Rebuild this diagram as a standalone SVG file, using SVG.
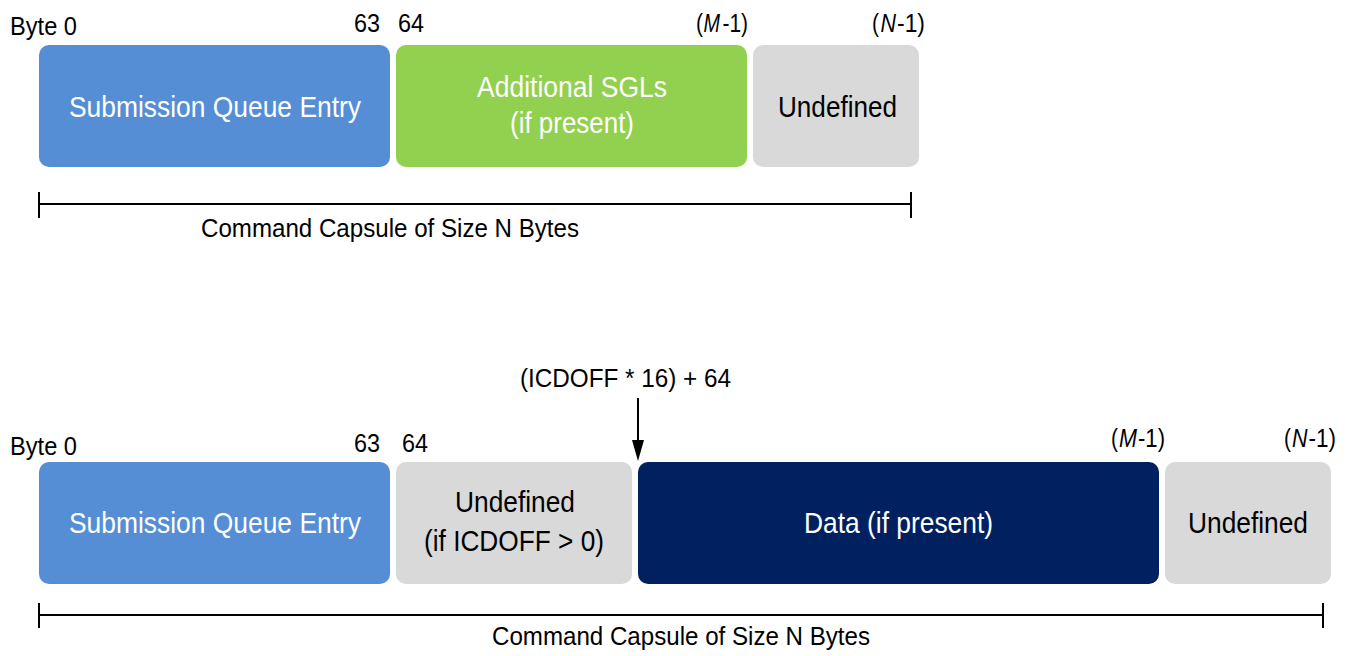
<svg xmlns="http://www.w3.org/2000/svg" width="1355" height="656" viewBox="0 0 1355 656">
<defs>
<style>
text{font-family:"Liberation Sans",Arial,sans-serif;}
.lbl{font-size:26px;fill:#000;}
.it{font-style:italic;}
.box{font-size:30px;text-anchor:middle;}
.w{fill:#fff;}
.k{fill:#000;}
.blue{fill:#558ED5;}
.green{fill:#92D050;}
.gray{fill:#D9D9D9;}
.navy{fill:#002060;}
.ln{stroke:#000;stroke-width:2;fill:none;}
</style>
</defs>
<rect width="1355" height="656" fill="#fff"/>
<g id="top-labels">
<text class="lbl" x="10" y="35" textLength="67" lengthAdjust="spacingAndGlyphs">Byte 0</text>
<text class="lbl" x="354" y="32" textLength="26" lengthAdjust="spacingAndGlyphs">63</text>
<text class="lbl" x="398" y="32" textLength="26" lengthAdjust="spacingAndGlyphs">64</text>
<text class="lbl" x="696" y="32" textLength="7" lengthAdjust="spacingAndGlyphs">(</text>
<text class="lbl it" x="703.5" y="32" textLength="16.5" lengthAdjust="spacingAndGlyphs">M</text>
<text class="lbl" x="722.5" y="32" textLength="25.5" lengthAdjust="spacingAndGlyphs">-1)</text>
<text class="lbl" x="872" y="32" textLength="7" lengthAdjust="spacingAndGlyphs">(</text>
<text class="lbl it" x="880.5" y="32" textLength="15.5" lengthAdjust="spacingAndGlyphs">N</text>
<text class="lbl" x="897" y="32" textLength="28" lengthAdjust="spacingAndGlyphs">-1)</text>
</g>
<g id="top-sqe"><rect class="blue" x="39" y="45" width="351" height="122" rx="10"/><text class="box w" x="215" y="117" textLength="292" lengthAdjust="spacingAndGlyphs">Submission Queue Entry</text></g>
<g id="top-sgl"><rect class="green" x="396" y="45" width="351" height="122" rx="10"/><text class="box w" x="572" y="97" textLength="190" lengthAdjust="spacingAndGlyphs">Additional SGLs</text><text class="box w" x="572" y="133" textLength="124" lengthAdjust="spacingAndGlyphs">(if present)</text></g>
<g id="top-undef"><rect class="gray" x="753" y="45" width="166" height="122" rx="10"/><text class="box k" x="837.5" y="117" textLength="119" lengthAdjust="spacingAndGlyphs">Undefined</text></g>
<g id="top-size"><text class="lbl" x="201" y="237" textLength="378" lengthAdjust="spacingAndGlyphs">Command Capsule of Size N Bytes</text></g>

<g id="bot-labels">
<text class="lbl" x="10" y="455" textLength="67" lengthAdjust="spacingAndGlyphs">Byte 0</text>
<text class="lbl" x="354" y="452" textLength="26" lengthAdjust="spacingAndGlyphs">63</text>
<text class="lbl" x="402" y="452" textLength="26" lengthAdjust="spacingAndGlyphs">64</text>
<text class="lbl" x="1111" y="447" textLength="7" lengthAdjust="spacingAndGlyphs">(</text>
<text class="lbl it" x="1119" y="447" textLength="18" lengthAdjust="spacingAndGlyphs">M</text>
<text class="lbl" x="1138" y="447" textLength="27" lengthAdjust="spacingAndGlyphs">-1)</text>
<text class="lbl" x="1284" y="447" textLength="7" lengthAdjust="spacingAndGlyphs">(</text>
<text class="lbl it" x="1292" y="447" textLength="15.5" lengthAdjust="spacingAndGlyphs">N</text>
<text class="lbl" x="1308.5" y="447" textLength="27.5" lengthAdjust="spacingAndGlyphs">-1)</text>
<text class="lbl" x="520" y="387" textLength="211" lengthAdjust="spacingAndGlyphs">(ICDOFF * 16) + 64</text>
</g>
<g id="bot-sqe"><rect class="blue" x="39" y="462" width="351" height="122" rx="10"/><text class="box w" x="215" y="533" textLength="292" lengthAdjust="spacingAndGlyphs">Submission Queue Entry</text></g>
<g id="bot-undef1"><rect class="gray" x="396" y="462" width="236" height="122" rx="10"/><text class="box k" x="515" y="512" textLength="120" lengthAdjust="spacingAndGlyphs">Undefined</text><text class="box k" x="514" y="551" textLength="180" lengthAdjust="spacingAndGlyphs">(if ICDOFF &gt; 0)</text></g>
<g id="bot-data"><rect class="navy" x="638" y="462" width="521" height="122" rx="10"/><text class="box w" x="898.5" y="533" textLength="189" lengthAdjust="spacingAndGlyphs">Data (if present)</text></g>
<g id="bot-undef2"><rect class="gray" x="1165" y="462" width="166" height="122" rx="10"/><text class="box k" x="1248" y="533" textLength="120" lengthAdjust="spacingAndGlyphs">Undefined</text></g>
<g id="bot-size"><text class="lbl" x="492" y="645" textLength="378" lengthAdjust="spacingAndGlyphs">Command Capsule of Size N Bytes</text></g>

<g id="connectors">
<path class="ln" d="M39,204 H911 M39,192 V218 M911,192 V218"/>
<path class="ln" d="M39,615 H1323 M39,603 V628 M1323,603 V628"/>
<path class="ln" d="M638,398 V442"/>
<path d="M632,440 L644,440 L638,461 z" fill="#000"/>
</g>
</svg>
